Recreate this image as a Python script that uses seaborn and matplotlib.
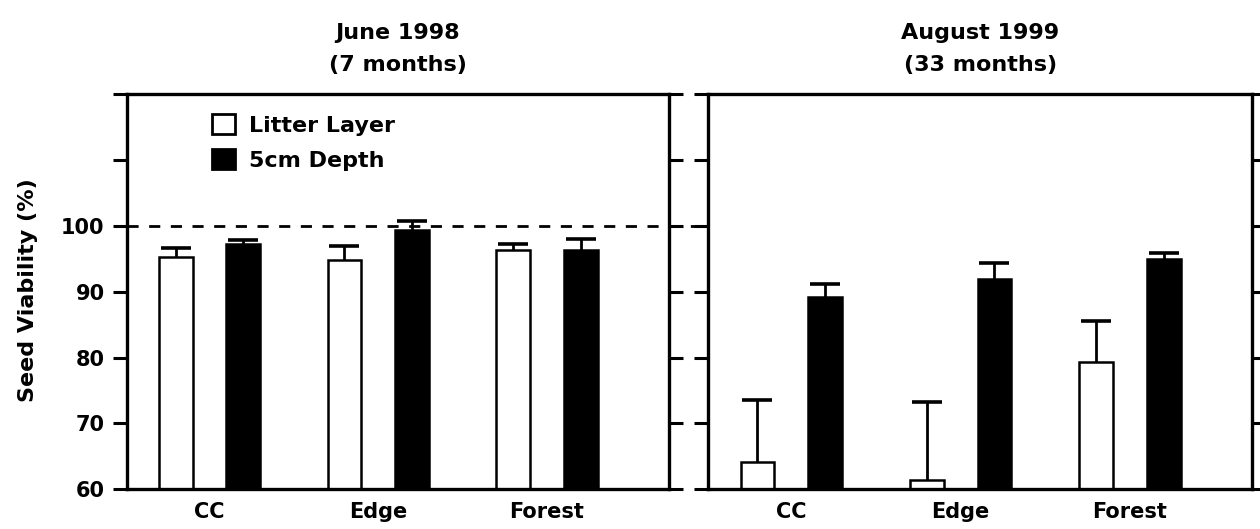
import matplotlib
matplotlib.use("Agg")
import matplotlib.pyplot as plt
import matplotlib.transforms as mtrans
from matplotlib.patches import Patch
import seaborn as sns
import pandas as pd
import numpy as np

# data
sites = ["CC", "Edge", "Forest"]
layers = ["Litter Layer", "5cm Depth"]
panel_titles = ["June 1998\n(7 months)", "August 1999\n(33 months)"]

june_litter = [95.3, 94.9, 96.3]
june_litter_err = [1.4, 2.1, 0.9]
june_depth = [97.2, 99.4, 96.3]
june_depth_err = [0.6, 1.4, 1.7]

aug_litter = [64.1, 61.4, 79.3]
aug_litter_err = [9.5, 11.8, 6.3]
aug_depth = [89.2, 91.9, 95.0]
aug_depth_err = [2.0, 2.5, 0.9]

yticks = [60, 70, 80, 90, 100, 110, 120]
ytick_labels = ["60", "70", "80", "90", "100", "", ""]

sns.set_style("white")
plt.rcParams['font.family'] = ['DejaVu Sans']
plt.rcParams['font.weight'] = 'bold'
plt.rcParams['text.color'] = 'black'
plt.rcParams['xtick.color'] = 'black'
plt.rcParams['ytick.color'] = 'black'

fig = plt.figure(figsize=(12.6, 5.29), dpi=100)
ax1 = fig.add_axes([0.1006, 0.075, 0.43, 0.7467])
ax2 = fig.add_axes([0.5622, 0.075, 0.4313, 0.7467])

panels = [
    (ax1, june_litter, june_litter_err, june_depth, june_depth_err),
    (ax2, aug_litter, aug_litter_err, aug_depth, aug_depth_err),
]

for i, (ax, lit, lit_err, dep, dep_err) in enumerate(panels):
    df = pd.DataFrame({
        'site': sites * 2,
        'layer': [layers[0]] * 3 + [layers[1]] * 3,
        'value': lit + dep,
        'err': lit_err + dep_err,
    })
    sns.barplot(data=df, x='site', y='value', hue='layer', order=sites, hue_order=layers,
                palette=['white', 'black'], edgecolor='black', linewidth=1.8,
                errorbar=None, gap=0.5, width=0.8, legend=False, ax=ax, zorder=2)

    # one-sided error bars: stem up from the bar top, cap only at the upper end
    xs = [p.get_x() + p.get_width() / 2 for p in ax.patches]
    tops = np.array(df['value'])
    errs = np.array(df['err'])
    ax.vlines(xs, tops, tops + errs, color='black', lw=2.0, zorder=1)
    ax.plot(xs, tops + errs, ls='none', marker='_', ms=21, mew=2.6, color='black', zorder=3)

    ax.set_ylim(60, 120)
    ax.set_xlim(-0.49, 2.72)
    ax.set_yticks(yticks)
    if i == 0:
        ax.set_yticklabels(ytick_labels, fontsize=15, fontweight='bold')
    else:
        ax.set_yticklabels([])
    ax.set_ylabel("")
    ax.set_xlabel("")
    ax.tick_params(axis='y', which='both', left=True, right=True, direction='out',
                   length=10, width=2.2, pad=6)
    ax.tick_params(axis='x', length=0, pad=9, labelsize=15)
    for lab in ax.get_xticklabels():
        lab.set_fontweight('bold')
    for s in ax.spines.values():
        s.set_linewidth(2.4)
        s.set_color('black')
        s.set_zorder(5)
    ax.text(0.5, 1.048, panel_titles[i], transform=ax.transAxes, ha='center', va='bottom',
            fontsize=16, fontweight='bold', linespacing=1.8)

fig.text(0.022, 0.452, "Seed Viability (%)", rotation=90, ha='center', va='center',
         fontsize=16, fontweight='bold')

# dashed 100% reference line running across both panels
trans = mtrans.blended_transform_factory(fig.transFigure, ax1.transData)
ax1.plot([0.1006, 0.9912], [100, 100], transform=trans, color='black', lw=2.0,
         dashes=(4, 3.8), clip_on=False, zorder=6)

handles = [Patch(facecolor='white', edgecolor='black', linewidth=2),
           Patch(facecolor='black', edgecolor='black', linewidth=2)]
leg = ax1.legend(handles, layers, loc='upper left', bbox_to_anchor=(0.158, 0.95), frameon=False,
                 borderpad=0, borderaxespad=0, handlelength=1.0, handleheight=1.0,
                 handletextpad=0.65, labelspacing=0.6, prop={'size': 16, 'weight': 'bold'})

fig.savefig("out.png", dpi=100)
